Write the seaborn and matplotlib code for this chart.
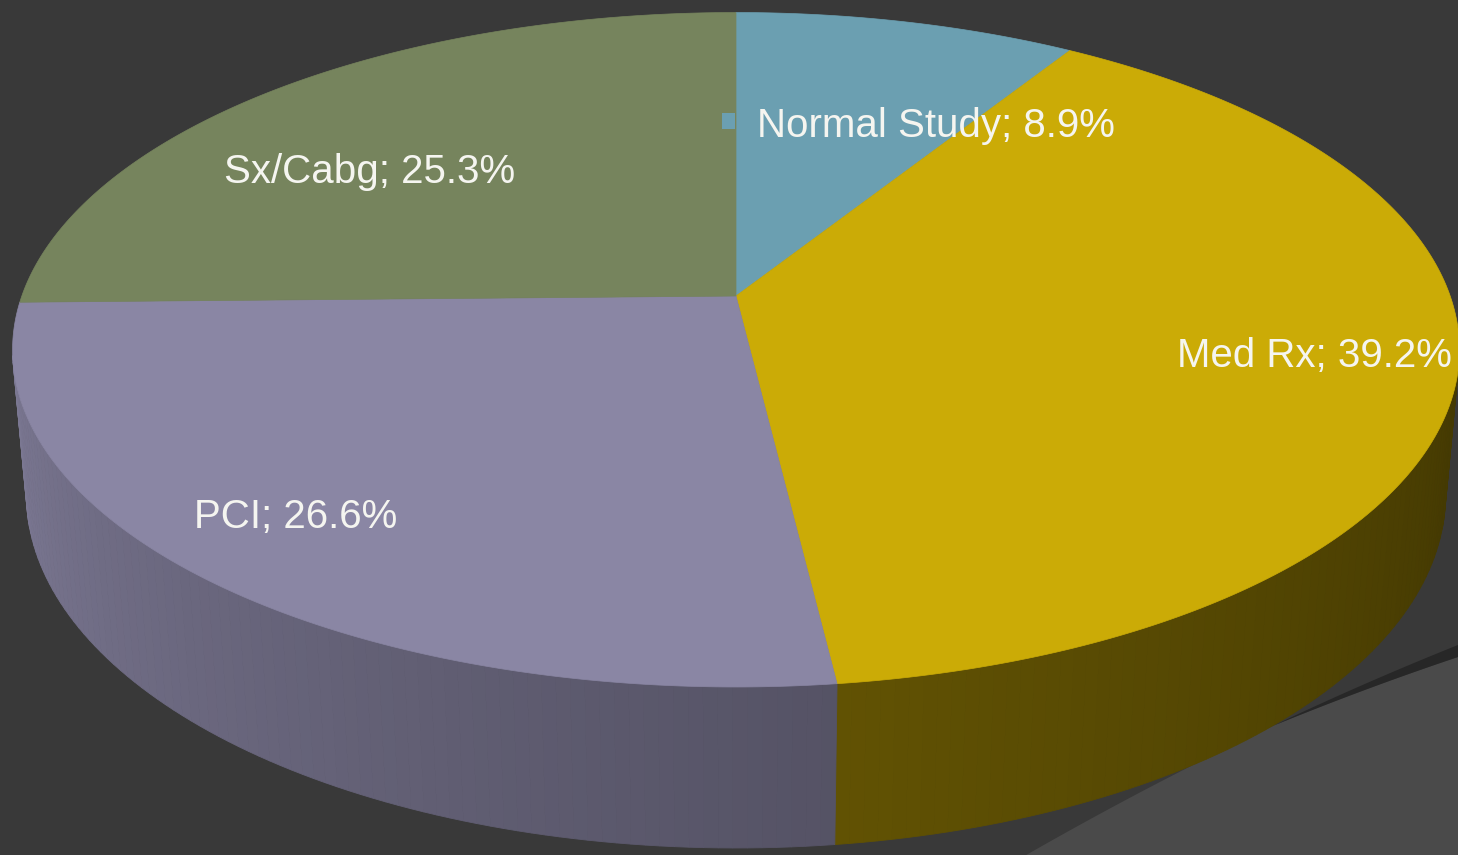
"""3D-style pie chart of treatment outcome shares on a dark slide background."""

import matplotlib.pyplot as plt
import numpy as np
import seaborn as sns
from matplotlib.colors import to_rgb
from matplotlib.patches import Polygon, Rectangle

# data
categories = ["Normal Study", "Med Rx", "PCI", "Sx/Cabg"]
shares = [8.9, 39.2, 26.6, 25.3]
slice_colors = ["#6b9fb1", "#cbab06", "#8a86a4", "#76845d"]

# label placement (pixels) and styling
label_xy = [(936, 126), (1314, 356), (296, 517), (370, 172)]
wall_gain = [1.0, 0.84, 1.08, 1.0]  # side-wall brightness per slice
BG = "#393939"
FLOOR = "#4a4a4a"
BAND = "#272727"

# camera for the tilted disc
ELEV = np.deg2rad(27.4)
DIST = 5.57
FOCAL = 3978
CX, CY = 736, 296
THICK = 0.23


def project(theta, h=0.0, r=1.0):
    """Project a point on the disc (theta clockwise from the far side) to pixels."""
    X = r * np.sin(theta)
    Z = r * np.cos(theta)
    s, c = np.sin(ELEV), np.cos(ELEV)
    vy = h - DIST * s
    vz = Z + DIST * c
    depth = -vy * s + vz * c
    up = vy * c + vz * s
    return CX + FOCAL * X / depth, CY - FOCAL * up / depth


def wall_shade(deg):
    t = np.clip((deg - 90) / 180, 0, 1)
    return 0.38 + 0.48 * t ** 1.2


sns.set_theme(style="dark", rc={"figure.facecolor": BG, "axes.facecolor": BG})
plt.rcParams["font.family"] = ["Liberation Sans", "DejaVu Sans"]
palette = sns.color_palette(slice_colors)

fig = plt.figure(figsize=(14.58, 8.55), dpi=100)
ax = fig.add_axes([0, 0, 1, 1])
ax.set_xlim(0, 1458)
ax.set_ylim(855, 0)
ax.axis("off")

# slide decoration: lighter floor with a dark swoosh edge
xs = np.linspace(880, 1470, 200)
y_up = 645 + 0.40 * (1458 - xs) + 0.0002 * (1458 - xs) ** 2
y_lo = y_up + np.clip(12 * (xs - 1273) / 185, 0, None)
ax.add_patch(Polygon(np.r_[np.c_[xs, y_lo], [[1470, 870], [880, 870]]],
                     closed=True, fc=FLOOR, ec="none", zorder=0))
ax.add_patch(Polygon(np.r_[np.c_[xs, y_up], np.c_[xs[::-1], y_lo[::-1]]],
                     closed=True, fc=BAND, ec="none", zorder=0))

edges = np.r_[0, np.cumsum(shares)] / np.sum(shares) * 360
# only the part of the rim that faces the camera is drawn
rim_limit = -1.0 / (DIST * np.cos(ELEV))

# outer walls, shaded in thin strips
for i, col in enumerate(palette):
    a0, a1 = edges[i], edges[i + 1]
    steps = np.linspace(a0, a1, max(int(a1 - a0), 2) + 1)
    base = np.array(to_rgb(col)) * wall_gain[i]
    for d0, d1 in zip(steps[:-1], steps[1:]):
        if np.cos(np.deg2rad((d0 + d1) / 2)) > rim_limit + 0.02:
            continue
        t = np.deg2rad([d0, d1])
        top = np.c_[project(t)]
        bot = np.c_[project(t[::-1], h=-THICK)]
        shade = tuple(np.clip(base * wall_shade((d0 + d1) / 2), 0, 1))
        ax.add_patch(Polygon(np.r_[top, bot], closed=True, fc=shade, ec=shade,
                             lw=0.6, zorder=1))

# top faces
for i, col in enumerate(palette):
    t = np.deg2rad(np.linspace(edges[i], edges[i + 1], 200))
    arc = np.c_[project(t)]
    pts = np.r_[[[CX, CY]], arc]
    ax.add_patch(Polygon(pts, closed=True, fc=col, ec=col, lw=0.5, zorder=2))

# labels
for i, (name, val) in enumerate(zip(categories, shares)):
    x, y = label_xy[i]
    ax.text(x, y, f"{name}; {val}%", color="#f5f5f0", fontsize=29,
            ha="center", va="center", zorder=3)

# small key marker next to the first label
ax.add_patch(Rectangle((label_xy[0][0] - 214, label_xy[0][1] - 13), 13, 16,
                       fc=palette[0], ec="none", zorder=3))

fig.savefig("out.png", dpi=100, facecolor=BG)
plt.close(fig)
